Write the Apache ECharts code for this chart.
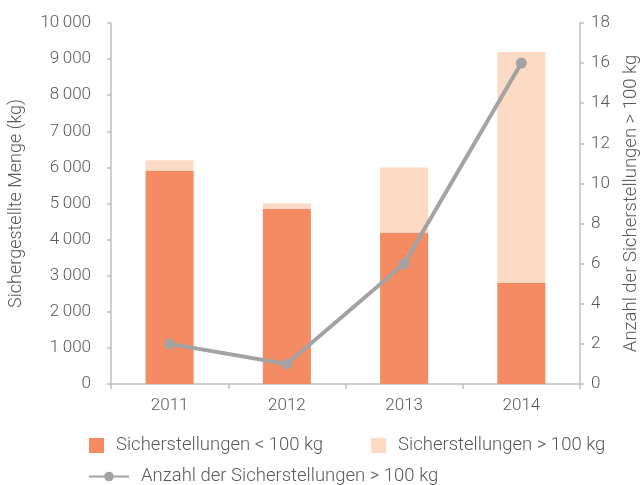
<!DOCTYPE html>
<html><head><meta charset="utf-8">
<script src="https://cdn.jsdelivr.net/npm/echarts@6/dist/echarts.min.js"></script>
<style>html,body{margin:0;padding:0;background:#fff}#c{width:642px;height:485px}</style>
</head><body><div id="c"></div>
<script>
const categories = ['2011', '2012', '2013', '2014'];
const under100 = [5900, 4850, 4200, 2800];
const over100 = [300, 150, 1800, 6400];
const countOver100 = [2, 1, 6, 16];

const FONT = 'Roboto';
const TXT = '#595959';
const AX = '#BFBFBF';
const chart = echarts.init(document.getElementById('c'));
chart.setOption({
  animation: false,
  textStyle: {fontFamily: FONT, fontWeight: 300},
  grid: {left: 111, right: 62, top: 23, bottom: 101, containLabel: false, outerBoundsMode: 'none'},
  legend: [{
    data: ['Sicherstellungen < 100 kg', 'Sicherstellungen > 100 kg'],
    left: 84, top: 431, itemWidth: 15, itemHeight: 15, itemGap: 48, icon: 'rect',
    textStyle: {fontFamily: FONT, fontWeight: 300, fontSize: 18.5, color: TXT, padding: [0, 0, 0, 7]}
  }, {
    data: ['Anzahl der Sicherstellungen > 100 kg'],
    left: 83, top: 462, itemWidth: 40, itemHeight: 12,
    textStyle: {fontFamily: FONT, fontWeight: 300, fontSize: 18.5, color: TXT, padding: [0, 0, 0, 7]}
  }],
  xAxis: {
    type: 'category', data: categories,
    axisLine: {lineStyle: {color: AX, width: 1.5}},
    axisTick: {show: true, length: 5, lineStyle: {color: AX, width: 1.5}},
    axisLabel: {color: TXT, fontSize: 17, margin: 13, fontFamily: FONT, fontWeight: 300}
  },
  yAxis: [{
    type: 'value', min: 0, max: 10000, interval: 1000,
    name: 'Sichergestellte Menge (kg)', nameLocation: 'middle', nameGap: 86, nameRotate: 90,
    nameTextStyle: {color: TXT, fontSize: 18, fontFamily: FONT, fontWeight: 300},
    axisLine: {show: true, lineStyle: {color: AX, width: 1.5}},
    axisTick: {show: true, length: 4, lineStyle: {color: AX, width: 1.5}},
    splitLine: {show: false},
    axisLabel: {color: TXT, fontSize: 17, margin: 20, fontFamily: FONT, fontWeight: 300,
      formatter: v => v >= 1000 ? Math.floor(v / 1000) + '\u2009' + String(v % 1000).padStart(3, '0') : String(v)}
  }, {
    type: 'value', min: 0, max: 18, interval: 2, position: 'right',
    name: 'Anzahl der Sicherstellungen > 100 kg', nameLocation: 'middle', nameGap: 42, nameRotate: 90,
    nameTextStyle: {color: TXT, fontSize: 18.5, fontFamily: FONT, fontWeight: 300},
    axisLine: {show: true, lineStyle: {color: AX, width: 1.5}},
    axisTick: {show: true, length: 4, lineStyle: {color: AX, width: 1.5}},
    splitLine: {show: false},
    axisLabel: {color: TXT, fontSize: 17, margin: 11, fontFamily: FONT, fontWeight: 300}
  }],
  series: [{
    name: 'Sicherstellungen < 100 kg', type: 'bar', stack: 'm', data: under100,
    barWidth: '41%', itemStyle: {color: '#F48B63'}
  }, {
    name: 'Sicherstellungen > 100 kg', type: 'bar', stack: 'm', data: over100,
    barWidth: '41%', itemStyle: {color: '#FDDAC4'}
  }, {
    name: 'Anzahl der Sicherstellungen > 100 kg', type: 'line', yAxisIndex: 1, data: countOver100,
    symbol: 'circle', symbolSize: 11, lineStyle: {color: '#A3A3A3', width: 4},
    itemStyle: {color: '#A3A3A3'}
  }]
});
</script></body></html>
